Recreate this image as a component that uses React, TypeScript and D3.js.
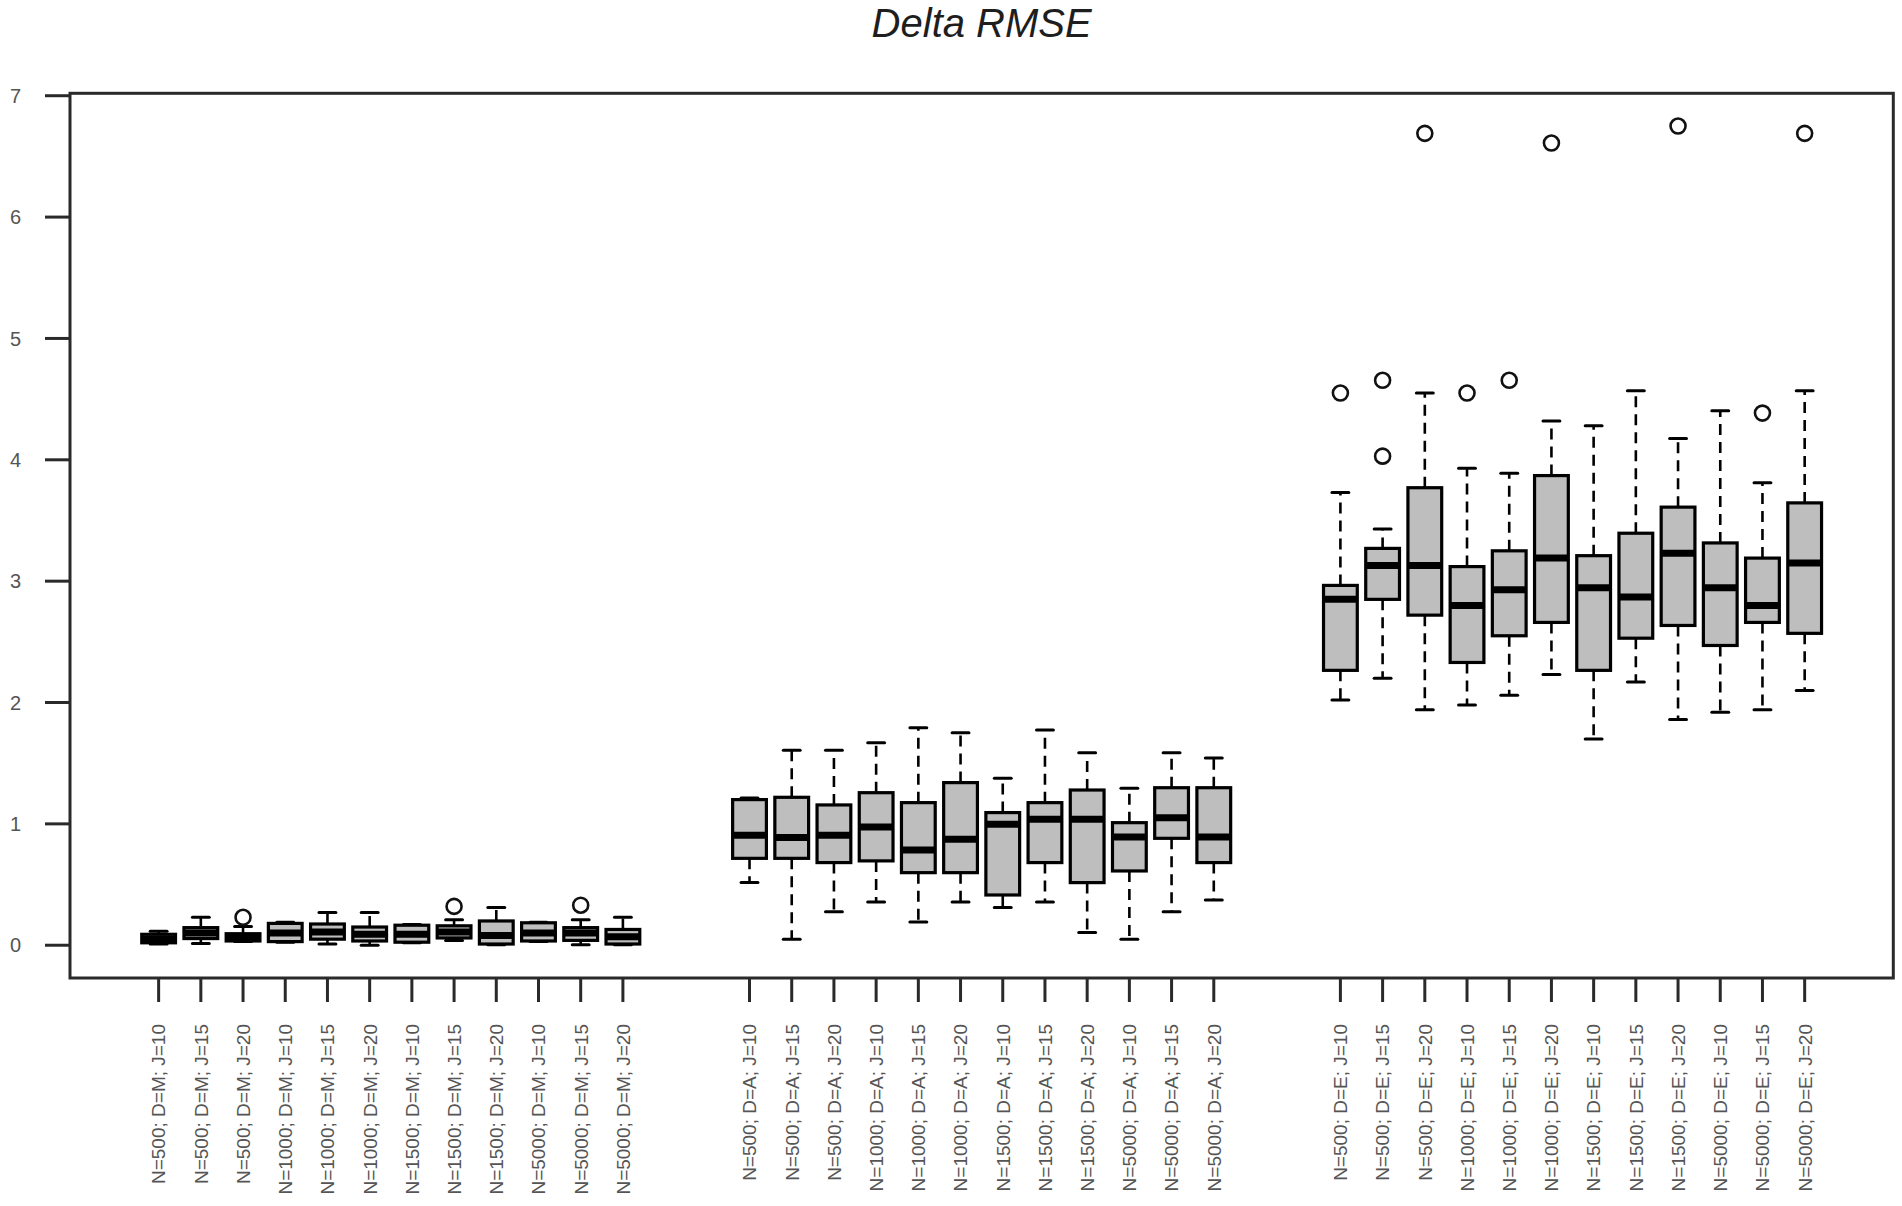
import React from "react";
import * as d3 from "d3";

// ---- data ----
const sampleSizes = ["500", "500", "500", "1000", "1000", "1000", "1500", "1500", "1500", "5000", "5000", "5000"];
const jValues = ["10", "15", "20", "10", "15", "20", "10", "15", "20", "10", "15", "20"];
const designs = ["M", "A", "E"];
const yTicks = [0, 1, 2, 3, 4, 5, 6, 7];

// per-group box statistics (12 boxes each): lower whisker, Q1, median, Q3, upper whisker
const lowM = [0.01, 0.015, 0.03, 0.025, 0.01, 0.0, 0.02, 0.04, 0.005, 0.03, 0.005, 0.005];
const q1M = [0.02, 0.055, 0.035, 0.03, 0.05, 0.035, 0.025, 0.06, 0.01, 0.035, 0.04, 0.01];
const medM = [0.05, 0.1, 0.06, 0.1, 0.11, 0.09, 0.09, 0.11, 0.08, 0.1, 0.1, 0.07];
const q3M = [0.09, 0.145, 0.095, 0.18, 0.175, 0.15, 0.165, 0.16, 0.2, 0.185, 0.145, 0.13];
const highM = [0.115, 0.23, 0.155, 0.19, 0.27, 0.27, 0.17, 0.21, 0.31, 0.19, 0.21, 0.23];
const outM = [[], [], [0.23], [], [], [], [], [0.32], [], [], [0.33], []];

const lowA = [0.516, 0.05, 0.275, 0.357, 0.192, 0.357, 0.31, 0.357, 0.104, 0.05, 0.275, 0.373];
const q1A = [0.716, 0.716, 0.681, 0.695, 0.598, 0.598, 0.414, 0.681, 0.516, 0.612, 0.881, 0.681];
const medA = [0.906, 0.887, 0.906, 0.975, 0.785, 0.873, 0.996, 1.038, 1.038, 0.892, 1.051, 0.892];
const q3A = [1.2, 1.219, 1.156, 1.257, 1.175, 1.34, 1.093, 1.175, 1.279, 1.01, 1.298, 1.298];
const highA = [1.213, 1.606, 1.606, 1.669, 1.793, 1.751, 1.375, 1.773, 1.587, 1.293, 1.587, 1.542];
const outA = [[], [], [], [], [], [], [], [], [], [], [], []];

const lowE = [2.02, 2.2, 1.94, 1.98, 2.06, 2.23, 1.7, 2.17, 1.86, 1.92, 1.94, 2.1];
const q1E = [2.265, 2.85, 2.72, 2.33, 2.55, 2.66, 2.265, 2.53, 2.635, 2.47, 2.66, 2.57];
const medE = [2.85, 3.13, 3.13, 2.8, 2.93, 3.19, 2.945, 2.87, 3.23, 2.945, 2.8, 3.15];
const q3E = [2.965, 3.27, 3.77, 3.12, 3.25, 3.87, 3.21, 3.395, 3.61, 3.315, 3.19, 3.645];
const highE = [3.73, 3.43, 4.55, 3.93, 3.89, 4.32, 4.28, 4.57, 4.175, 4.405, 3.81, 4.57];
const outE = [[4.55], [4.03, 4.655], [6.69], [4.55], [4.655], [6.61], [], [], [6.75], [], [4.385], [6.69]];

const groupLows = [lowM, lowA, lowE];
const groupQ1 = [q1M, q1A, q1E];
const groupMed = [medM, medA, medE];
const groupQ3 = [q3M, q3A, q3E];
const groupHigh = [highM, highA, highE];
const groupOut = [outM, outA, outE];

type Box = { label: string; pos: number; low: number; q1: number; med: number; q3: number; high: number; out: number[] };

const boxes: Box[] = [];
designs.forEach((d, g) => {
  sampleSizes.forEach((n, i) => {
    boxes.push({
      label: `N=${n}; D=${d}; J=${jValues[i]}`,
      pos: g * 14 + i + 1,
      low: groupLows[g][i],
      q1: groupQ1[g][i],
      med: groupMed[g][i],
      q3: groupQ3[g][i],
      high: groupHigh[g][i],
      out: groupOut[g][i],
    });
  });
});

// ---- layout ----
const W = 1902;
const H = 1206;
const left = 70;
const right = 1893.3;
const top = 93.3;
const bottom = 978;
const fontFamily = "'Liberation Sans', Arial, Helvetica, sans-serif";

export default function App() {
  const posExtent = d3.extent(boxes, (b) => b.pos) as [number, number];
  const xlo = posExtent[0] - 0.5;
  const xhi = posExtent[1] + 0.5;
  const xr = xhi - xlo;
  const x = d3.scaleLinear().domain([xlo - 0.04 * xr, xhi + 0.04 * xr]).range([left, right]);

  const allVals = boxes.flatMap((b) => [b.low, b.high, ...b.out]);
  const ymin = d3.min(allVals) as number;
  const ymax = d3.max(allVals) as number;
  const yr = ymax - ymin;
  const y = d3.scaleLinear().domain([ymin - 0.04 * yr, ymax + 0.04 * yr]).range([bottom, top]);

  const unit = x(1) - x(0);
  const halfBox = 0.4 * unit;
  const halfStaple = 0.2 * unit;

  return (
    <svg width={W} height={H} style={{ position: "absolute", left: 0, top: 0, background: "#fff" }}>
      {/* title */}
      <text x={(left + right) / 2} y={37} textAnchor="middle" fontFamily={fontFamily} fontStyle="italic" fontSize={40} fill="#1e1e1e">
        Delta RMSE
      </text>

      {/* boxes */}
      {boxes.map((b, i) => {
        const cx = x(b.pos);
        return (
          <g key={i}>
            <line x1={cx} x2={cx} y1={y(b.q3)} y2={y(b.high)} stroke="#000" strokeWidth={2.6} strokeDasharray="11 7" />
            <line x1={cx} x2={cx} y1={y(b.q1)} y2={y(b.low)} stroke="#000" strokeWidth={2.6} strokeDasharray="11 7" />
            <line x1={cx - halfStaple} x2={cx + halfStaple} y1={y(b.high)} y2={y(b.high)} stroke="#000" strokeWidth={3} strokeLinecap="round" />
            <line x1={cx - halfStaple} x2={cx + halfStaple} y1={y(b.low)} y2={y(b.low)} stroke="#000" strokeWidth={3} strokeLinecap="round" />
            <rect x={cx - halfBox} y={y(b.q3)} width={2 * halfBox} height={Math.max(0, y(b.q1) - y(b.q3))} fill="#bebebe" stroke="#000" strokeWidth={3.2} />
            <line x1={cx - halfBox} x2={cx + halfBox} y1={y(b.med)} y2={y(b.med)} stroke="#000" strokeWidth={7} />
            {b.out.map((o, j) => (
              <circle key={j} cx={cx} cy={y(o)} r={7.5} fill="none" stroke="#111" strokeWidth={2.6} />
            ))}
          </g>
        );
      })}

      {/* frame */}
      <rect x={left} y={top} width={right - left} height={bottom - top} fill="none" stroke="#2a2a2a" strokeWidth={3} />

      {/* y axis */}
      {yTicks.map((t) => (
        <g key={t}>
          <line x1={left - 25} x2={left} y1={y(t)} y2={y(t)} stroke="#2a2a2a" strokeWidth={3} />
          <text x={21} y={y(t)} dy="0.36em" textAnchor="end" fontFamily={fontFamily} fontSize={20} fill="#555">
            {t}
          </text>
        </g>
      ))}

      {/* x axis */}
      {boxes.map((b, i) => {
        const cx = x(b.pos);
        return (
          <g key={i}>
            <line x1={cx} x2={cx} y1={bottom} y2={bottom + 24} stroke="#2a2a2a" strokeWidth={3} />
            <text
              transform={`translate(${cx},${1024}) rotate(-90)`}
              dy="0.36em"
              textAnchor="end"
              fontFamily={fontFamily}
              fontSize={19}
              fill="#555"
            >
              {b.label}
            </text>
          </g>
        );
      })}
    </svg>
  );
}
